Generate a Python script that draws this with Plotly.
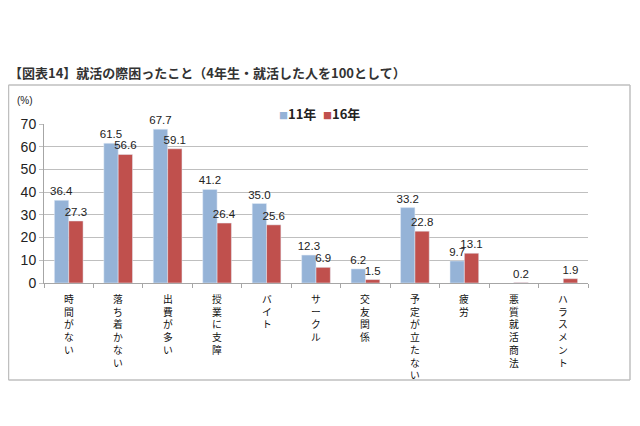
import plotly.graph_objects as go

categories = ["時間がない", "落ち着かない", "出費が多い", "授業に支障", "バイト",
              "サークル", "交友関係", "予定が立たない", "疲労", "悪質就活商法", "ハラスメント"]
vals_11 = [36.4, 61.5, 67.7, 41.2, 35.0, 12.3, 6.2, 33.2, 9.7, None, None]
vals_16 = [27.3, 56.6, 59.1, 26.4, 25.6, 6.9, 1.5, 22.8, 13.1, 0.2, 1.9]
series_names = ["11年", "16年"]
series_colors = ["#95B3D7", "#C0504D"]
y_ticks = [0, 10, 20, 30, 40, 50, 60, 70]

label_font = dict(family="Liberation Sans Narrow, Liberation Sans, Arial", size=11.5, color="#222")

def fmt(v):
    return "" if v is None else f"{v:.1f}"

fig = go.Figure()
for name, vals, col in zip(series_names, [vals_11, vals_16], series_colors):
    fig.add_trace(go.Bar(x=categories, y=vals, name=name,
                         marker_color=col, text=[fmt(v) for v in vals],
                         textposition="outside", textfont=label_font, cliponaxis=False))

# the page places the figure 8px from the top-left corner
OFF = 8
W, H = 640 - OFF, 426 - OFF
L, R, T, B = 44 - OFF, 52, 124 - OFF, 143
pw, ph = W - L - R, H - T - B
def px_x(x): return (x - OFF - L) / pw
def px_y(y): return (H - B - (y - OFF)) / ph

fig.update_layout(
    width=W, height=H,
    margin=dict(l=L, r=R, t=T, b=B),
    paper_bgcolor="white", plot_bgcolor="white",
    barmode="group", bargap=0.42, bargroupgap=0,
    uniformtext=dict(minsize=11, mode="show"),
    font=dict(family="Noto Sans CJK JP, Liberation Sans", color="#222"),
    title=dict(text="<b>【図表14】就活の際困ったこと（4年生・就活した人を100として）</b>",
               xref="container", yref="container", x=(9 - OFF) / W, y=1 - (73 - OFF) / H,
               xanchor="left", yanchor="middle",
               font=dict(size=13, family="Noto Sans CJK JP", color="#333")),
    showlegend=False,
    xaxis=dict(showline=True, linecolor="#A6A6A6", linewidth=1,
               ticks="outside", tickson="boundaries", ticklen=4, tickcolor="#A6A6A6",
               showticklabels=False, showgrid=False),
    yaxis=dict(range=[0, 70], tickvals=y_ticks, showline=True, linecolor="#A6A6A6",
               gridcolor="#BFBFBF", gridwidth=1, ticks="outside", ticklen=4,
               tickcolor="#BFBFBF", tickfont=dict(size=14, family="Liberation Sans Narrow, Liberation Sans", color="#222"),
               zeroline=False),
)

# vertical (tategaki-style) category labels, one glyph per line
for cat in categories:
    fig.add_annotation(text="<br>".join(list(cat)), xref="x", yref="paper", x=cat,
                       y=px_y(291), showarrow=False, xanchor="center", yanchor="top",
                       borderpad=0,
                       font=dict(size=9.8, family="Noto Sans CJK JP", color="#111"))

# outer frame around the chart
bx0, bx1, by0, by1 = px_x(8.5), px_x(630), px_y(85), px_y(380)
frame = dict(color="#BFBFBF", width=1.5)
for (x0, y0, x1, y1) in [(bx0, by0, bx1, by0), (bx0, by1, bx1, by1),
                         (bx0, by0, bx0, by1), (bx1, by0, bx1, by1)]:
    fig.add_shape(type="line", xref="paper", yref="paper",
                  x0=x0, y0=y0, x1=x1, y1=y1, line=frame)

fig.add_annotation(text="(%)", xref="paper", yref="paper", x=px_x(25), y=px_y(100),
                   showarrow=False, font=dict(size=10, family="Liberation Sans", color="#222"),
                   xanchor="center", yanchor="middle")

# legend built from annotations (small square markers)
legend_x = [277, 321]
for name, col, lx in zip(series_names, series_colors, legend_x):
    fig.add_annotation(text=f"<span style='color:{col};font-size:9px'>■</span><b>{name}</b>",
                       xref="paper", yref="paper", x=px_x(lx), y=px_y(113),
                       showarrow=False, xanchor="left", yanchor="middle",
                       font=dict(size=13, family="Noto Sans CJK JP", color="#222"))

fig.write_html("out.html")
